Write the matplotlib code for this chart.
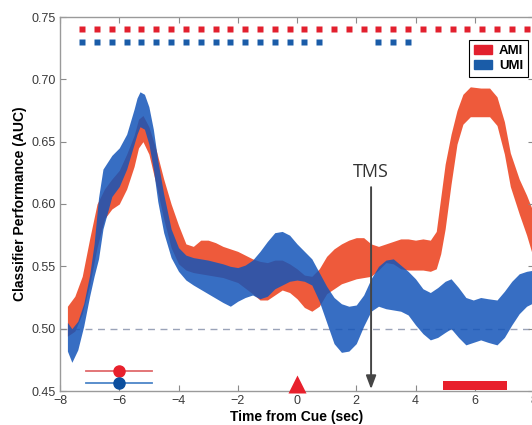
import numpy as np
import matplotlib
matplotlib.use('Agg')
import matplotlib.pyplot as plt
from matplotlib.patches import Patch, Rectangle

plt.rcParams['font.family'] = ['Liberation Sans', 'DejaVu Sans']

# AMI band (time, lower, upper)
ami_t = [-7.75, -7.5, -7.25, -7.0, -6.75, -6.5, -6.25, -6.0, -5.75, -5.5, -5.35, -5.2, -5.0,
         -4.75, -4.5, -4.25, -4.0, -3.75, -3.5, -3.25, -3.0, -2.75, -2.5, -2.0, -1.5,
         -1.25, -1.0, -0.75, -0.5, -0.25, 0.0, 0.25, 0.5, 0.75, 1.0, 1.25, 1.5, 1.75,
         2.0, 2.25, 2.5, 2.75, 3.0, 3.25, 3.5, 3.75, 4.0, 4.25, 4.5, 4.7, 4.85, 5.0,
         5.2, 5.4, 5.6, 5.85, 6.2, 6.5, 6.75, 7.0, 7.2, 7.5, 7.75, 8.0]
ami_lo = [0.494, 0.498, 0.512, 0.535, 0.565, 0.588, 0.596, 0.600, 0.612, 0.630, 0.645, 0.650, 0.640,
          0.615, 0.588, 0.565, 0.552, 0.547, 0.545, 0.544, 0.543, 0.542, 0.541, 0.537, 0.528,
          0.523, 0.523, 0.527, 0.531, 0.529, 0.524, 0.517, 0.514, 0.518, 0.528, 0.532, 0.536, 0.538,
          0.540, 0.541, 0.542, 0.547, 0.553, 0.552, 0.548, 0.547, 0.547, 0.547, 0.546, 0.548, 0.560, 0.580,
          0.616, 0.648, 0.664, 0.670, 0.670, 0.670, 0.663, 0.640, 0.614, 0.592, 0.575, 0.555]
ami_hi = [0.518, 0.526, 0.542, 0.572, 0.600, 0.612, 0.620, 0.627, 0.640, 0.655, 0.668, 0.671, 0.662,
          0.643, 0.620, 0.600, 0.583, 0.568, 0.566, 0.571, 0.571, 0.569, 0.566, 0.562, 0.556,
          0.554, 0.553, 0.555, 0.555, 0.552, 0.548, 0.543, 0.542, 0.548, 0.558, 0.564, 0.568, 0.571,
          0.573, 0.573, 0.568, 0.566, 0.568, 0.570, 0.572, 0.572, 0.571, 0.572, 0.571, 0.578, 0.605, 0.632,
          0.656, 0.675, 0.688, 0.694, 0.693, 0.693, 0.686, 0.666, 0.641, 0.620, 0.607, 0.592]

# UMI band (time, lower, upper)
umi_t = [-7.75, -7.6, -7.4, -7.2, -7.0, -6.85, -6.7, -6.55, -6.25, -6.0, -5.75, -5.5, -5.4, -5.3,
         -5.15, -5.0, -4.85, -4.7, -4.5, -4.25, -4.0, -3.75, -3.5, -3.0, -2.5, -2.25, -2.0, -1.75,
         -1.5, -1.25, -1.0, -0.75, -0.5, -0.25, 0.0, 0.25, 0.5, 0.75, 1.0, 1.25, 1.5, 1.75,
         2.0, 2.25, 2.5, 2.75, 3.0, 3.25, 3.5, 3.75, 4.0, 4.25, 4.5, 4.75, 5.0, 5.2, 5.45,
         5.7, 5.95, 6.2, 6.45, 6.75, 7.0, 7.25, 7.5, 7.75, 8.0]
umi_lo = [0.482, 0.473, 0.483, 0.502, 0.526, 0.542, 0.556, 0.580, 0.606, 0.614, 0.628, 0.648, 0.656, 0.662,
          0.660, 0.648, 0.628, 0.602, 0.577, 0.557, 0.546, 0.539, 0.535, 0.528, 0.521, 0.518, 0.522, 0.525,
          0.527, 0.524, 0.526, 0.532, 0.535, 0.538, 0.539, 0.538, 0.535, 0.522, 0.505, 0.488, 0.481, 0.482,
          0.488, 0.502, 0.514, 0.518, 0.516, 0.515, 0.514, 0.511, 0.503, 0.496, 0.491, 0.493, 0.497, 0.500, 0.493,
          0.487, 0.489, 0.491, 0.489, 0.487, 0.493, 0.503, 0.512, 0.518, 0.521]
umi_hi = [0.505, 0.500, 0.506, 0.520, 0.543, 0.568, 0.605, 0.628, 0.639, 0.645, 0.656, 0.676, 0.685, 0.690,
          0.688, 0.678, 0.660, 0.635, 0.608, 0.580, 0.565, 0.559, 0.557, 0.555, 0.552, 0.550, 0.549, 0.551,
          0.555, 0.562, 0.570, 0.577, 0.578, 0.575, 0.568, 0.562, 0.556, 0.545, 0.534, 0.525, 0.520, 0.518,
          0.519, 0.527, 0.540, 0.550, 0.555, 0.556, 0.551, 0.546, 0.540, 0.532, 0.529, 0.533, 0.538, 0.540, 0.533,
          0.525, 0.523, 0.525, 0.524, 0.523, 0.530, 0.538, 0.544, 0.546, 0.547]

# significance squares along the top
ami_sig = [-7.25 + 0.5 * k for k in range(31)]
umi_sig = [-7.25 + 0.5 * k for k in range(17)] + [2.75, 3.25, 3.75]

# markers along the bottom
mean_t = -6.0
range_t = [-7.12, -4.9]
cue_t = 0.0
tms_t = 2.5
window = [4.93, 7.08]

red = '#EE5A3B'
blue = '#1455B9'
sq_red = '#E2202E'
sq_blue = '#1A5CA8'

fig = plt.figure(figsize=(5.32, 4.25), dpi=100)
ax = fig.add_axes([0.1128, 0.08, 0.891, 0.88])

ax.axhline(0.50, color='#9AA3B8', lw=1.0, dashes=(5, 4), zorder=0)
ax.fill_between(ami_t, ami_lo, ami_hi, color=red, lw=0, zorder=1)
ax.fill_between(umi_t, umi_lo, umi_hi, color=blue, alpha=0.85, lw=0, zorder=2)

ax.plot(ami_sig, [0.740] * len(ami_sig), 's', ms=4.3, color=sq_red, mec='none')
ax.plot(umi_sig, [0.7298] * len(umi_sig), 's', ms=4.3, color=sq_blue, mec='none')

ax.plot(range_t, [0.4663, 0.4663], color='#E06A6C', lw=1.3, zorder=3)
ax.plot(range_t, [0.4567, 0.4567], color='#4D86C8', lw=1.3, zorder=3)
ax.plot(mean_t, 0.4663, 'o', ms=8, color='#E8202C', zorder=4)
ax.plot(mean_t, 0.4567, 'o', ms=8, color='#0C4F9E', zorder=4)

ax.plot(cue_t, 0.4557, '^', ms=12.5, color='#E8202C', mec='none', zorder=4, clip_on=False)
ax.add_patch(Rectangle((window[0], 0.4505), window[1] - window[0], 0.0073,
                       color='#E8202C', lw=0, zorder=4))

ax.annotate('', xy=(tms_t, 0.4515), xytext=(tms_t, 0.6135),
            arrowprops=dict(arrowstyle='-|>,head_length=0.8,head_width=0.3',
                            color='#454545', lw=1.4, shrinkA=0, shrinkB=0), zorder=5)
ax.text(tms_t, 0.6185, 'TMS', ha='center', va='bottom', fontsize=13,
        family='Open Sans', color='#333333')

ax.set_xlim(-8, 8)
ax.set_ylim(0.45, 0.75)
ax.set_xticks(np.arange(-8, 9, 2))
ax.set_yticks(np.arange(0.45, 0.751, 0.05))
ax.set_yticklabels(['%.2f' % v for v in np.arange(0.45, 0.751, 0.05)])
ax.tick_params(direction='in', top=True, right=True, length=4, width=0.8,
               color='#8A8A8A', labelsize=9, labelcolor='#3A3A3A', pad=3)
for s in ax.spines.values():
    s.set_color('#9A9A9A')
    s.set_linewidth(1.0)

ax.set_xlabel('Time from Cue (sec)', fontsize=10, fontweight='bold', labelpad=2)
ax.set_ylabel('Classifier Performance (AUC)', fontsize=10, fontweight='bold', labelpad=3)

handles = [Patch(color=sq_red, label='AMI'), Patch(color=sq_blue, label='UMI')]
leg = ax.legend(handles=handles, loc='upper right', bbox_to_anchor=(0.987, 0.9385),
                prop={'weight': 'bold', 'size': 9.5}, fancybox=False, framealpha=1,
                edgecolor='black', handlelength=1.4, handleheight=0.7,
                handletextpad=0.5, borderpad=0.35, labelspacing=0.25, borderaxespad=0)
leg.get_frame().set_linewidth(0.8)

fig.savefig('out.png', dpi=100)
